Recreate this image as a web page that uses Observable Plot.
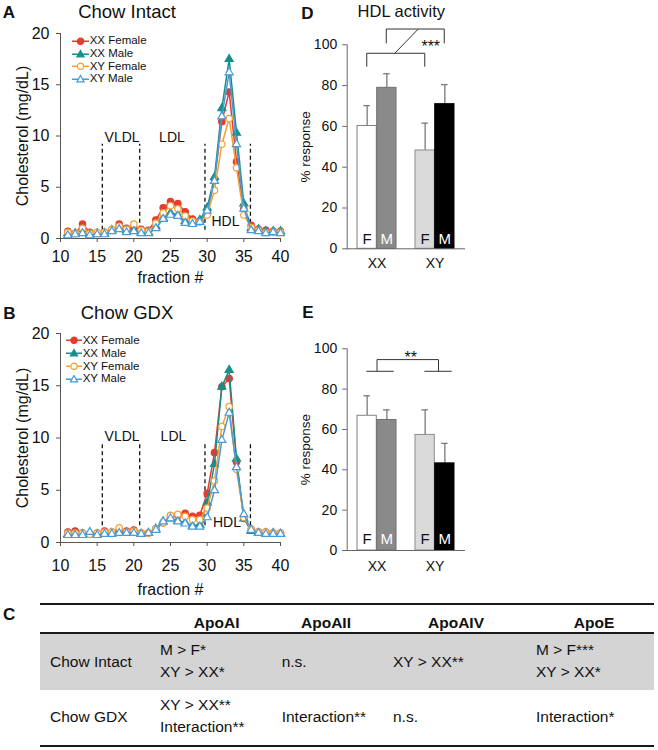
<!DOCTYPE html>
<html>
<head>
<meta charset="utf-8">
<script src="https://cdn.jsdelivr.net/npm/d3@7"></script>
<script src="https://cdn.jsdelivr.net/npm/@observablehq/plot@0.6"></script>
<style>
  body { margin: 0; background: #fff; }
  #root { position: relative; width: 658px; height: 750px; overflow: hidden; background: #fff;
          font-family: "Liberation Sans", Arial, Helvetica, sans-serif; color: #111; }
  .abs { position: absolute; white-space: nowrap; line-height: 1; }
  .c { transform: translate(-50%, -50%); }
  .l { transform: translate(0, -50%); }
  svg.panel { position: absolute; overflow: visible; }
</style>
</head>
<body>
<div id="root"></div>
<script>
// ---------------- DATA ----------------
const fractions = [11,12,13,14,15,16,17,18,19,20,21,22,23,24,25,26,27,28,29,30,31,32,33,34,35,36,37,38,39,40];
const seriesNames = ["XX Female", "XX Male", "XY Female", "XY Male"];

// Panel A: Chow Intact (cholesterol, mg/dL)
const intactXXFemale = [0.7,0.5,1.4,0.6,0.5,0.6,0.8,1.4,1.0,1.0,0.9,0.8,1.8,3.0,3.6,3.4,2.6,1.9,1.7,2.6,5.7,11.4,14.3,7.5,2.9,1.3,0.9,0.8,0.7,0.7];
const intactXXMale   = [0.5,0.5,0.9,0.4,0.5,0.5,0.8,1.1,0.8,0.8,0.6,0.6,1.2,2.0,2.5,2.3,1.7,1.5,1.8,3.0,6.0,12.7,17.5,10.3,3.4,1.0,0.9,0.7,0.7,0.7];
const intactXYFemale = [0.6,0.5,1.0,0.5,0.6,0.6,0.9,1.2,0.9,1.4,0.8,0.7,1.5,2.5,3.2,2.9,2.2,1.7,1.6,2.3,4.7,9.2,11.7,6.9,2.3,1.1,0.8,0.6,0.6,0.6];
const intactXYMale   = [0.3,0.4,0.5,0.3,0.4,0.4,0.7,0.9,0.6,0.7,0.5,0.5,1.0,1.9,2.3,2.2,1.5,1.4,1.6,2.7,5.6,11.9,16.2,9.2,2.9,0.8,0.7,0.5,0.6,0.5];

// Panel B: Chow GDX
const gdxXXFemale = [1.0,1.1,0.9,0.8,0.9,1.1,1.0,1.2,1.1,1.2,0.9,0.9,1.3,1.9,2.5,2.6,2.8,2.5,2.6,4.7,8.6,14.9,15.7,7.7,2.3,1.2,1.0,1.0,0.9,0.9];
const gdxXXMale   = [0.8,0.8,0.8,0.9,0.8,0.9,0.9,1.0,0.9,1.0,0.8,0.9,1.3,2.0,2.3,2.1,1.9,1.6,1.7,3.8,7.5,14.9,16.5,8.0,2.3,1.1,0.9,0.9,0.9,0.8];
const gdxXYFemale = [0.9,0.9,0.9,0.8,0.9,1.0,1.0,1.4,1.0,1.1,0.9,0.9,1.3,1.9,2.6,2.7,2.5,2.2,2.2,3.3,5.9,11.1,13.0,7.0,2.4,1.3,1.0,1.0,0.9,0.9];
const gdxXYMale   = [0.7,0.7,0.7,1.0,0.7,0.8,0.8,0.9,0.9,0.9,0.8,0.9,1.2,2.0,2.3,2.0,1.8,1.5,1.5,2.4,5.0,9.8,12.4,7.2,2.7,1.2,0.9,0.8,0.8,0.8];

const fractionTicks = [10,15,20,25,30,35,40];
const cholTicks = [0,5,10,15,20];
const lipoBounds = [15.7, 20.8, 29.7, 35.9];            // fraction # of dashed separators
const lipoNames = ["VLDL", "LDL", "HDL"];
const intactLabelFraction = [18.4, 25.2, 32.5];
const intactLabelChol = [9.85, 9.85, 1.7];
const gdxLabelFraction = [18.4, 25.4, 32.7];
const gdxLabelChol = [10.1, 10.1, 1.95];

// Panels D / E: HDL activity (% response)
const barGenotype = ["XX", "XX", "XY", "XY"];
const barSex = ["F", "M", "F", "M"];
const intactMean = [60.2, 78.9, 48.2, 70.9];
const intactErr  = [10.0, 6.9, 13.4, 9.6];
const gdxMean = [66.8, 64.7, 57.3, 43.2];
const gdxErr  = [9.9, 5.0, 12.4, 9.9];
const pctTicks = [0, 20, 40, 60, 80, 100];

// Panel C table
const tableColumns = ["", "ApoAI", "ApoAII", "ApoAIV", "ApoE"];
const tableRowNames = ["Chow Intact", "Chow GDX"];
const tableCells = [
  [["M > F*", "XY > XX*"], ["n.s."], ["XY > XX**"], ["M > F***", "XY > XX*"]],
  [["XY > XX**", "Interaction**"], ["Interaction**"], ["n.s."], ["Interaction*"]]
];

// ---------------- STYLES ----------------
const FONT = '"Liberation Sans", Arial, Helvetica, sans-serif';
const seriesStyle = {
  "XX Female": {stroke: "#e63b2e", fill: "#e63b2e", symbol: "circle", r: 3.2},
  "XX Male":   {stroke: "#15908a", fill: "#15908a", symbol: "triangle", r: 3.0},
  "XY Female": {stroke: "#f4a037", fill: "#ffffff", symbol: "circle", r: 3.2},
  "XY Male":   {stroke: "#4a9ad8", fill: "#ffffff", symbol: "triangle", r: 3.0}
};
const barFill = {XXF: "#ffffff", XXM: "#8a8a8a", XYF: "#dadada", XYM: "#000000"};
const barStroke = {XXF: "#808080", XXM: "#6e6e6e", XYF: "#8c8c8c", XYM: "#000000"};
const letterFill = {XXF: "#111", XXM: "#fff", XYF: "#111", XYM: "#fff"};

const root = document.getElementById("root");

function addText(txt, x, y, css, cls = "c") {
  const d = document.createElement("div");
  d.className = "abs " + cls;
  d.textContent = txt;
  d.style.left = x + "px";
  d.style.top = y + "px";
  Object.assign(d.style, css);
  root.appendChild(d);
  return d;
}
function place(svg, left, top) {
  svg.classList.add("panel");
  svg.style.left = left + "px";
  svg.style.top = top + "px";
  root.appendChild(svg);
}

// ---------------- PROFILE PANELS (A, B) ----------------
function profilePlot(values, labelF, labelV, opt) {
  const rows = [];
  seriesNames.forEach((s, si) => fractions.forEach((f, i) => rows.push({s, f, v: values[si][i]})));
  const labels = lipoNames.map((name, i) => ({name, f: labelF[i], v: labelV[i]}));
  const marks = [
    Plot.ruleX(lipoBounds, {x: d => d, y1: opt.dashLo, y2: opt.dashHi, stroke: "#111", strokeWidth: 1.3, strokeDasharray: "4,3"}),
    Plot.text(labels, {x: "f", y: "v", text: "name", fontSize: 14, fill: "#111"}),
    Plot.ruleY([0], {stroke: "#555", strokeWidth: 1}),
    Plot.ruleX([10], {stroke: "#555", strokeWidth: 1}),
    Plot.axisY({ticks: cholTicks, tickSize: 4, tickPadding: 7, label: null, stroke: "#555"}),
    Plot.axisX({ticks: fractionTicks, tickSize: 4, tickPadding: opt.xPad, label: null, stroke: "#555"}),
    Plot.text(["Cholesterol (mg/dL)"], {frameAnchor: "left", dx: -38, rotate: -90, textAnchor: "middle", lineAnchor: "middle", text: d => d, fontSize: 16, fill: "#111"}),
    Plot.text(["fraction #"], {frameAnchor: "bottom", dy: opt.xLabelDy, textAnchor: "middle", lineAnchor: "middle", text: d => d, fontSize: 16, fill: "#111"})
  ];
  for (const s of seriesNames) {
    const st = seriesStyle[s];
    const data = rows.filter(r => r.s === s);
    marks.push(Plot.line(data, {x: "f", y: "v", stroke: st.stroke, strokeWidth: 1.5}));
    marks.push(Plot.dot(data, {x: "f", y: "v", symbol: st.symbol, r: st.r, fill: st.fill, stroke: st.stroke, strokeWidth: 1.2}));
  }
  return Plot.plot({
    width: 290, height: 290,
    marginLeft: 60, marginRight: 10, marginTop: opt.mt, marginBottom: opt.mb,
    x: {domain: [10, 40]},
    y: {domain: [0, 20]},
    style: {fontFamily: FONT, fontSize: "16px", color: "#111", background: "transparent", overflow: "visible"},
    marks
  });
}

function legend(left, cy0, dy, lineW) {
  seriesNames.forEach((s, i) => {
    const st = seriesStyle[s];
    const cy = cy0 + i * dy;
    const row = document.createElement("div");
    row.className = "abs l";
    row.style.left = left + "px";
    row.style.top = cy + "px";
    row.style.display = "flex";
    row.style.alignItems = "center";
    row.style.fontSize = "11.5px";
    const m = st.symbol === "circle"
      ? `<circle cx="${lineW/2}" cy="5" r="3.1" fill="${st.fill}" stroke="${st.stroke}" stroke-width="1.2"/>`
      : `<path d="M${lineW/2},1.2 L${lineW/2+3.6},7.6 L${lineW/2-3.6},7.6 Z" fill="${st.fill}" stroke="${st.stroke}" stroke-width="1.2"/>`;
    row.innerHTML = `<svg width="${lineW}" height="10" style="overflow:visible"><line x1="0" x2="${lineW}" y1="5" y2="5" stroke="${st.stroke}" stroke-width="1.5"/>${m}</svg><span style="margin-left:1px">${s}</span>`;
    root.appendChild(row);
  });
}

const plotA = profilePlot([intactXXFemale, intactXXMale, intactXYFemale, intactXYMale], intactLabelFraction, intactLabelChol,
  {mt: 33, mb: 52, xPad: 8, xLabelDy: 39, dashLo: 0.8, dashHi: 9.2});
place(plotA, 0, 0);
const plotB = profilePlot([gdxXXFemale, gdxXXMale, gdxXYFemale, gdxXYMale], gdxLabelFraction, gdxLabelChol,
  {mt: 33, mb: 48, xPad: 13, xLabelDy: 47, dashLo: 1.6, dashHi: 9.5});
place(plotB, 0, 300);

legend(71.7, 41.3, 12.6, 17);
legend(65.7, 340.7, 12.9, 16);

addText("A", 8.8, 12, {fontSize: "17px", fontWeight: "bold"});
addText("Chow Intact", 127, 12, {fontSize: "18.5px"});
addText("B", 9.5, 313, {fontSize: "17px", fontWeight: "bold"});
addText("Chow GDX", 127, 313, {fontSize: "18.5px"});

// ---------------- BAR PANELS (D, E) ----------------
const PI = 0.33, PO = 0.17;
const frameW = 118.3;
const BW = frameW / (2 - PI + 2 * PO) * (1 - PI);
const Q = BW / 4;

function barPlot(means, errs, opt) {
  const rows = barGenotype.map((g, i) => ({g, s: barSex[i], k: g + barSex[i], v: means[i], e: errs[i]}));
  const F = rows.filter(r => r.s === "F"), M = rows.filter(r => r.s === "M");
  const errStroke = "#7a7a7a";
  const marks = [
    Plot.ruleX(F, {x: "g", y1: "v", y2: d => d.v + d.e, dx: -Q, stroke: errStroke, strokeWidth: 1.3}),
    Plot.ruleX(M, {x: "g", y1: "v", y2: d => d.v + d.e, dx: Q, stroke: errStroke, strokeWidth: 1.3}),
    Plot.tickY(F, {x: "g", y: d => d.v + d.e, insetLeft: Q - 3.5, insetRight: BW - Q - 3.5, stroke: errStroke, strokeWidth: 1.3}),
    Plot.tickY(M, {x: "g", y: d => d.v + d.e, insetLeft: BW - Q - 3.5, insetRight: Q - 3.5, stroke: errStroke, strokeWidth: 1.3}),
    Plot.barY(F, {x: "g", y: "v", insetRight: BW / 2, fill: d => barFill[d.k], stroke: d => barStroke[d.k], strokeWidth: 1}),
    Plot.barY(M, {x: "g", y: "v", insetLeft: BW / 2, fill: d => barFill[d.k], stroke: d => barStroke[d.k], strokeWidth: 1}),
    Plot.text(F, {x: "g", y: 0, dx: -Q, dy: opt.letterDy, text: "s", fill: d => letterFill[d.k], fontSize: 15}),
    Plot.text(M, {x: "g", y: 0, dx: Q, dy: opt.letterDy, text: "s", fill: d => letterFill[d.k], fontSize: 15}),
    Plot.ruleY([0], {stroke: "#666", strokeWidth: 1}),
    Plot.frame({anchor: "left", stroke: "#666", strokeWidth: 1}),
    Plot.axisY({ticks: pctTicks, tickSize: 4.5, tickPadding: 5.5, label: null, stroke: "#666"}),
    Plot.axisX({tickSize: 0, tickPadding: opt.xPad, label: null}),
    Plot.text(["% response"], {frameAnchor: "left", dx: -41.7, rotate: -90, textAnchor: "middle", lineAnchor: "middle", text: d => d, fontSize: 13.5, fill: "#111"})
  ];
  return Plot.plot({
    width: 190, height: 290,
    marginLeft: 56.7, marginRight: 15, marginTop: opt.mt, marginBottom: opt.mb,
    x: {domain: ["XX", "XY"], paddingInner: PI, paddingOuter: PO},
    y: {domain: [0, 100]},
    color: {type: "identity"},
    style: {fontFamily: FONT, fontSize: "14px", color: "#111", background: "transparent", overflow: "visible"},
    marks
  });
}

function overlay(plot, drawFn) {
  const xs = plot.scale("x"), ys = plot.scale("y");
  const start = g => xs.apply(g);
  const bw = xs.bandwidth;
  const y = v => ys.apply(v);
  const svg = d3.select(plot);
  const g = svg.append("g").attr("fill", "none").attr("stroke", "#333").attr("stroke-width", 1);
  drawFn({start, bw, y, g, svg});
}

const plotD = barPlot(intactMean, intactErr, {mt: 44.3, mb: 41.7, xPad: 9.7, letterDy: -10});
place(plotD, 290, 0);
overlay(plotD, ({start, bw, y, g, svg}) => {
  const fc = gt => start(gt) + bw / 4, mc = gt => start(gt) + 3 * bw / 4;
  const l1 = y(95.6), e1 = y(89);
  g.append("path").attr("d", `M${fc("XX")},${e1}V${l1}H${fc("XY")}V${e1}`);
  const l2 = y(107.5), e2 = y(100.5);
  g.append("path").attr("d", `M${mc("XX")},${e2}V${l2}H${mc("XY")}V${e2}`);
  const m1 = (fc("XX") + fc("XY")) / 2, m2 = (mc("XX") + mc("XY")) / 2;
  g.append("line").attr("x1", m1 - 1).attr("y1", l1).attr("x2", m2 + 3).attr("y2", l2);
  svg.append("text").attr("x", (m2 + mc("XY")) / 2 + 1).attr("y", y(100.6) + 9)
    .attr("text-anchor", "middle").attr("font-size", 16).attr("fill", "#111").text("***");
});

const plotE = barPlot(gdxMean, gdxErr, {mt: 48.3, mb: 40, xPad: 11, letterDy: -11.5});
place(plotE, 290, 300);
overlay(plotE, ({start, bw, y, g, svg}) => {
  const lo = y(88.6), hi = y(94.4);
  for (const gt of ["XX", "XY"]) {
    g.append("line").attr("x1", start(gt) + 0.24 * bw).attr("x2", start(gt) + 0.94 * bw).attr("y1", lo).attr("y2", lo);
  }
  const cXX = start("XX") + bw / 2 + 0.5, cXY = start("XY") + bw / 2 + 4;
  g.append("path").attr("d", `M${cXX},${lo}V${hi}H${cXY}V${lo}`);
  svg.append("text").attr("x", (cXX + cXY) / 2 + 3).attr("y", y(97) + 9)
    .attr("text-anchor", "middle").attr("font-size", 16).attr("fill", "#111").text("**");
});

addText("D", 307.5, 12.7, {fontSize: "17px", fontWeight: "bold"});
addText("HDL activity", 401.3, 10.8, {fontSize: "16.5px"});
addText("E", 308, 311.7, {fontSize: "17px", fontWeight: "bold"});

// ---------------- TABLE (C) ----------------
addText("C", 9.2, 613.8, {fontSize: "17px", fontWeight: "bold"});
function rule(top, h) {
  const d = document.createElement("div");
  Object.assign(d.style, {position: "absolute", left: "40px", width: "614px", top: top + "px", height: h + "px", background: "#1a1a1a"});
  root.appendChild(d);
}
const band = document.createElement("div");
Object.assign(band.style, {position: "absolute", left: "40px", width: "614px", top: "634.3px", height: "55.7px", background: "#d4d4d4"});
root.appendChild(band);
rule(603, 2);
rule(632.3, 2);
rule(744.7, 2);

const colLeft = [50, 160, 281.7, 393, 536];
const colHeadCenter = [null, 216.7, 326, 456, 594];
tableColumns.forEach((c, i) => {
  if (c) addText(c, colHeadCenter[i], 622.7, {fontSize: "15.5px", fontWeight: "bold"});
});
const rowCenter = [662.2, 717.4];
tableRowNames.forEach((name, r) => {
  const rc = rowCenter[r];
  addText(name, colLeft[0], rc, {fontSize: "15.5px"}, "l");
  tableCells[r].forEach((lines, ci) => {
    if (lines.length === 1) addText(lines[0], colLeft[ci + 1], rc - 0.5, {fontSize: "15.5px"}, "l");
    else lines.forEach((t, li) => addText(t, colLeft[ci + 1], rc - 1.5 + (li === 0 ? -11.2 : 11.2), {fontSize: "15.5px"}, "l"));
  });
});
</script>
</body>
</html>
